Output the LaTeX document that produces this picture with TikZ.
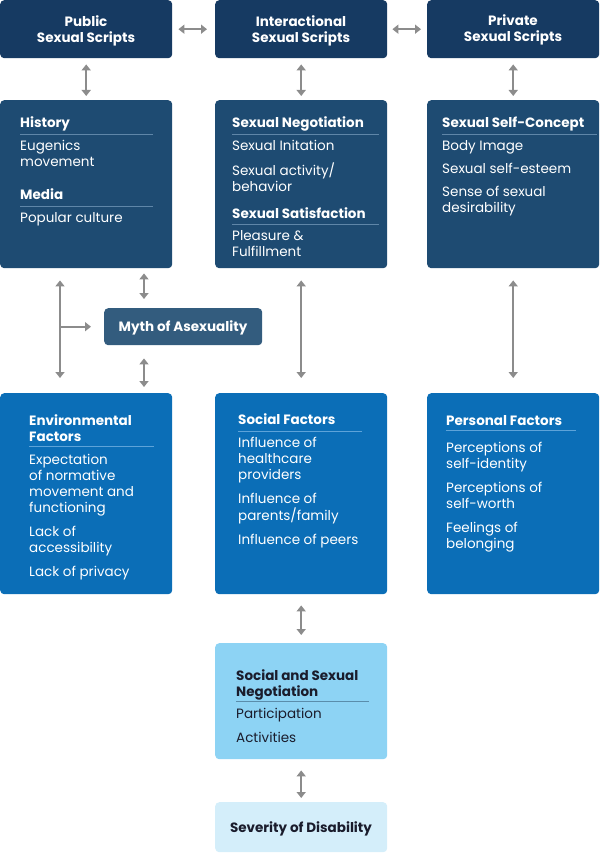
\documentclass[tikz,border=0pt]{standalone}
\usepackage{fontspec}
\setmainfont{Poppins}
\usetikzlibrary{arrows.meta,calc}
\definecolor{topc}{HTML}{163A62}
\definecolor{midc}{HTML}{1E4B72}
\definecolor{mythc}{HTML}{335C7E}
\definecolor{botc}{HTML}{0B6EB7}
\definecolor{ssnc}{HTML}{8DD3F4}
\definecolor{sevc}{HTML}{D4EEFA}
\definecolor{arrc}{HTML}{8C8C8C}
\definecolor{ruled}{HTML}{5F86A8}
\definecolor{ruleb}{HTML}{5DA3D9}
\definecolor{rules}{HTML}{5A8DAB}
\definecolor{darktxt}{HTML}{1A1C2C}
\newcommand\fsz{\fontsize{13.5}{16}\selectfont}
\newcommand\lft[1]{\begin{tabular}[t]{@{}l@{}}#1\end{tabular}}
\newcommand\ctr[1]{\begin{tabular}[t]{@{}c@{}}#1\end{tabular}}
\begin{document}
\begin{tikzpicture}[x=1pt,y=-1pt,
  box/.style={draw=none, rounded corners=4pt, anchor=north west, inner sep=0pt,
    minimum width=172pt},
  ttl/.style={anchor=base, inner sep=0pt, font=\bfseries\fsz, text=white},
  hd/.style={anchor=base west, inner sep=0pt, font=\bfseries\fsz, text=white},
  it/.style={anchor=base west, inner sep=0pt, font=\fsz, text=white},
  rl/.style={line width=0.8pt},
  arr/.style={draw=arrc, line width=2pt, {Triangle[length=6pt,width=9pt]}-{Triangle[length=6pt,width=9pt]}},
  arrone/.style={draw=arrc, line width=2pt, -{Triangle[length=6pt,width=9pt]}}
]
\useasboundingbox (0,0) rectangle (600,853);

% top row
\node[box, fill=topc, minimum height=58pt] (pub) at (0,0) {};
\node[box, fill=topc, minimum height=58pt] (inter) at (215,0) {};
\node[box, fill=topc, minimum height=58pt] (priv) at (427,0) {};
\node[ttl] (pubt) at (86,27) {\ctr{Public\\Sexual Scripts}};
\node[ttl] (intert) at (301,27) {\ctr{Interactional\\Sexual Scripts}};
\node[ttl] (privt) at (513,26) {\ctr{Private\\Sexual Scripts}};

% second row
\node[box, fill=midc, minimum height=168pt] (hist) at (0,100) {};
\node[box, fill=midc, minimum height=168pt] (neg) at (215,100) {};
\node[box, fill=midc, minimum height=168pt] (self) at (427,100) {};

\node[hd] (h1) at (20,128) {History};
\draw[rl, ruled] (20,134) -- (153,134);
\node[it] (i1) at (20,151) {\lft{Eugenics\\movement}};
\node[hd] (h2) at (20,200) {Media};
\draw[rl, ruled] (20,206) -- (153,206);
\node[it] (i2) at (20,222) {Popular culture};

\node[hd] (h3) at (232,128) {Sexual Negotiation};
\draw[rl, ruled] (232,134) -- (379,134);
\node[it] (i3) at (232,151) {\lft{Sexual Initation\\[7pt]Sexual activity/\\behavior}};
\node[hd] (h4) at (232,218) {Sexual Satisfaction};
\draw[rl, ruled] (232,224) -- (379,224);
\node[it] (i4) at (232,240) {\lft{Pleasure \&\\Fulfillment}};

\node[hd] (h5) at (442,128) {Sexual Self-Concept};
\draw[rl, ruled] (442,134) -- (597,134);
\node[it] (i5) at (442,151) {\lft{Body Image\\[7pt]Sexual self-esteem\\[7pt]Sense of sexual\\desirability}};

% myth
\node[box, fill=mythc, minimum width=158pt, minimum height=37pt] (myth) at (104,308) {};
\node[ttl] (mytht) at (183,331) {Myth of Asexuality};

% third row
\node[box, fill=botc, minimum height=201pt] (env) at (0,393) {};
\node[box, fill=botc, minimum height=201pt] (soc) at (215,393) {};
\node[box, fill=botc, minimum height=201pt] (pers) at (427,393) {};

\node[hd] (h6) at (29,425) {\lft{Environmental\\Factors}};
\draw[rl, ruleb] (29,446) -- (154,446);
\node[it] (i6) at (29,464) {\lft{Expectation\\of normative\\movement and\\functioning\\[8pt]Lack of\\accessibility\\[8pt]Lack of privacy}};

\node[hd] (h7) at (238,424) {Social Factors};
\draw[rl, ruleb] (238,431) -- (362,431);
\node[it] (i7) at (238,447) {\lft{Influence of\\healthcare\\providers\\[8pt]Influence of\\parents/family\\[8pt]Influence of peers}};

\node[hd] (h8) at (446,425) {Personal Factors};
\draw[rl, ruleb] (446,430) -- (576,430);
\node[it] (i8) at (446,452) {\lft{Perceptions of\\self-identity\\[8pt]Perceptions of\\self-worth\\[8pt]Feelings of\\belonging}};

% bottom
\node[box, fill=ssnc, minimum height=116pt] (ssn) at (215,643) {};
\node[hd, text=darktxt] (h9) at (236,680) {\lft{Social and Sexual\\Negotiation}};
\draw[rl, rules] (236,701) -- (369,701);
\node[it, text=darktxt] (i9) at (236,718) {\lft{Participation\\[8pt]Activities}};

\node[box, fill=sevc, minimum height=50pt] (sev) at (215,802) {};
\node[ttl, text=darktxt] (sevt) at (301,832) {Severity of Disability};

% connectors
\draw[arr, shorten <=6pt, shorten >=8pt] (pub) -- (inter);
\draw[arr, shorten <=5pt, shorten >=6pt] (inter) -- (priv);
\draw[arr, shorten <=6pt, shorten >=4pt] (pub) -- (hist);
\draw[arr, shorten <=6pt, shorten >=4pt] (inter) -- (neg);
\draw[arr, shorten <=6pt, shorten >=4pt] (priv) -- (self);
\draw[arr, shorten <=12pt, shorten >=15pt] (neg) -- (soc);
\draw[arr, shorten <=12pt, shorten >=15pt] (self) -- (pers);

\coordinate (L1) at ([xshift=60pt,yshift=-12pt]hist.south west);
\coordinate (L2) at ([xshift=60pt,yshift=15pt]env.north west);
\draw[arr] (L1) -- (L2);
\draw[arrone, shorten >=13pt] (L1 |- myth.west) -- (myth.west);

\coordinate (M1) at ([xshift=144pt,yshift=-5pt]hist.south west);
\coordinate (M2) at ([yshift=9pt]M1 |- myth.north);
\draw[arr] (M1) -- (M2);
\coordinate (M3) at ([yshift=-13pt]M1 |- myth.south);
\coordinate (M4) at ([xshift=144pt,yshift=6pt]env.north west);
\draw[arr] (M3) -- (M4);

\draw[arr, shorten <=11pt, shorten >=8pt] (soc) -- (ssn);
\draw[arr, shorten <=11pt, shorten >=4pt] (ssn) -- (sev);
\end{tikzpicture}
\end{document}
